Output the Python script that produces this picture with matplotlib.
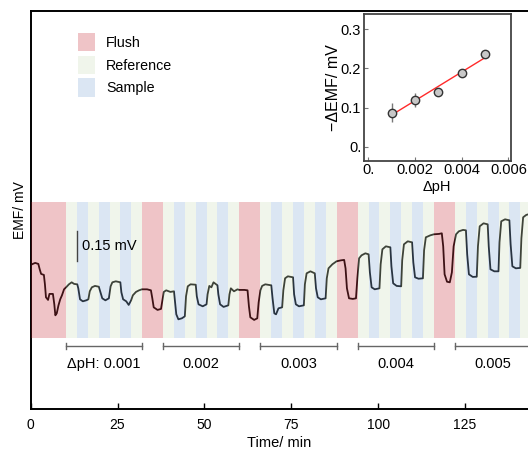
import numpy as np
import matplotlib
matplotlib.use("Agg")
import matplotlib.pyplot as plt
from matplotlib.patches import Patch

plt.rcParams['font.family'] = ['Liberation Sans', 'DejaVu Sans']

# EMF trace (min, mV relative to band bottom)
time_min = [0.05, 0.6, 1.3, 2.2, 2.6, 3.0, 3.8, 4.1, 4.4, 5.0, 5.4, 6.4, 6.8, 7.1, 7.5, 8.0, 8.5,
            9.0, 9.6, 10.3,
            11.0, 11.8, 12.5, 13.4, 13.7, 14.2, 15.0, 16.0, 16.6, 17.0, 17.6, 18.5, 19.6, 20.0,
            20.6, 21.5, 22.5, 23.0, 23.5, 24.5, 25.8, 26.1, 26.6, 27.5, 28.2, 28.9, 29.4, 30.3,
            31.2, 32.0,
            33.5, 34.6, 35.0, 35.4, 36.5, 37.5, 37.9, 38.3,
            39.0, 40.2, 41.23, 41.5, 41.9, 42.5, 43.5, 44.36, 44.7, 45.2, 46.0, 47.49, 47.8, 48.3,
            49.5, 50.61, 50.9, 51.4, 52.0, 52.6, 53.74, 54.0, 54.5, 55.5, 56.87, 57.2, 57.6, 58.5,
            59.5, 60.0,
            61.5, 62.4, 62.8, 63.2, 64.3, 65.2, 65.6, 66.1,
            66.6, 67.5, 69.23, 69.6, 70.1, 70.6, 71.3, 72.36, 72.7, 73.2, 74.0, 75.49, 75.8, 76.3,
            77.2, 78.61, 78.9, 79.4, 80.5, 81.74, 82.1, 82.6, 83.5, 84.87, 85.2, 85.7, 86.8, 88.0,
            89.3, 90.2, 90.6, 91.0, 91.6, 92.7, 93.6, 94.0, 94.5,
            95.2, 96.3, 97.23, 97.6, 98.1, 99.0, 100.36, 100.7, 101.2, 102.2, 103.49, 103.8, 104.3,
            105.3, 106.61, 106.9, 107.4, 108.5, 109.74, 110.1, 110.6, 111.6, 112.87, 113.2, 113.7,
            115.0, 116.0,
            117.5, 118.3, 118.7, 119.1, 119.8, 120.6, 121.2, 121.7, 122.4,
            123.2, 124.4, 125.23, 125.6, 126.1, 127.2, 128.36, 128.7, 129.2, 130.3, 131.49, 131.8,
            132.3, 133.4, 134.61, 134.9, 135.4, 136.5, 137.74, 138.1, 138.6, 139.6, 140.87, 141.2,
            141.7, 142.6, 143.2]
emf_mv = [0.367, 0.372, 0.377, 0.372, 0.345, 0.322, 0.317, 0.27, 0.205, 0.192, 0.222, 0.222, 0.17,
          0.115, 0.125, 0.165, 0.195, 0.215, 0.245, 0.257,
          0.27, 0.28, 0.272, 0.27, 0.25, 0.195, 0.185, 0.19, 0.195, 0.235, 0.255, 0.262, 0.258,
          0.235, 0.2, 0.19, 0.2, 0.26, 0.28, 0.285, 0.28, 0.23, 0.195, 0.185, 0.167, 0.19, 0.215,
          0.232, 0.24, 0.245,
          0.245, 0.24, 0.2, 0.155, 0.142, 0.147, 0.19, 0.232,
          0.24, 0.232, 0.235, 0.19, 0.12, 0.095, 0.1, 0.11, 0.21, 0.26, 0.27, 0.268, 0.21, 0.17,
          0.16, 0.17, 0.22, 0.262, 0.255, 0.28, 0.265, 0.22, 0.17, 0.157, 0.165, 0.22, 0.25,
          0.235, 0.245, 0.242,
          0.242, 0.24, 0.16, 0.105, 0.092, 0.1, 0.18, 0.24,
          0.262, 0.27, 0.265, 0.2, 0.125, 0.12, 0.15, 0.155, 0.24, 0.3, 0.31, 0.305, 0.22, 0.17,
          0.16, 0.165, 0.27, 0.325, 0.335, 0.325, 0.25, 0.205, 0.195, 0.2, 0.3, 0.35, 0.37, 0.385,
          0.39, 0.392, 0.35, 0.25, 0.2, 0.197, 0.2, 0.3, 0.4,
          0.415, 0.425, 0.42, 0.33, 0.255, 0.245, 0.25, 0.37, 0.445, 0.46, 0.455, 0.36, 0.275,
          0.262, 0.26, 0.39, 0.47, 0.485, 0.48, 0.38, 0.305, 0.298, 0.3, 0.44, 0.505, 0.515, 0.52,
          0.522, 0.525, 0.46, 0.32, 0.283, 0.28, 0.33, 0.46, 0.52,
          0.535, 0.542, 0.54, 0.42, 0.32, 0.307, 0.308, 0.46, 0.56, 0.575, 0.57, 0.46, 0.345,
          0.335, 0.335, 0.48, 0.585, 0.595, 0.59, 0.47, 0.36, 0.35, 0.352, 0.5, 0.605, 0.617, 0.62]

# flush periods; between them 7 alternating reference/sample steps
flush_start = [0.0, 32.0, 60.0, 88.0, 116.0, 144.0]
flush_end = [10.3, 38.1, 66.1, 94.1, 122.1, 150.0]
ph_labels = ["ΔpH: 0.001", "0.002", "0.003", "0.004", "0.005"]

# inset calibration
dph = [0.001, 0.002, 0.003, 0.004, 0.005]
d_emf = [0.087, 0.119, 0.141, 0.188, 0.236]
d_emf_err = [0.024, 0.018, 0.004, 0.010, 0.005]

c_flush = (195/255, 23/255, 35/255)
c_ref = (199/255, 219/255, 179/255)
c_sample = (115/255, 159/255, 211/255)
band_alpha = 0.25
band_lo, band_hi = 0.0, 0.68

fig = plt.figure(figsize=(5.28, 4.5), dpi=100)
ax = fig.add_axes([0.0581, 0.0904, 0.9419, 0.8858])

ax.plot(time_min, emf_mv, color='#111111', lw=1.3, zorder=2)

for i in range(len(flush_start)):
    ax.fill_betweenx([band_lo, band_hi], flush_start[i], flush_end[i],
                     color=c_flush, alpha=band_alpha, lw=0, zorder=3)
    if i + 1 < len(flush_start):
        seg = (flush_start[i + 1] - flush_end[i]) / 7.0
        for k in range(7):
            c = c_ref if k % 2 == 0 else c_sample
            ax.fill_betweenx([band_lo, band_hi], flush_end[i] + k * seg,
                             flush_end[i] + (k + 1) * seg,
                             color=c, alpha=band_alpha, lw=0, zorder=3)

# dpH brackets
for i, lab in enumerate(ph_labels):
    a, b = flush_end[i], flush_start[i + 1]
    ax.plot([a, b], [-0.036, -0.036], color='#666666', lw=1, zorder=4)
    ax.plot([a, a], [-0.051, -0.021], color='#666666', lw=1, zorder=4)
    ax.plot([b, b], [-0.051, -0.021], color='#666666', lw=1, zorder=4)
    ax.text((a + b) / 2, -0.126, lab, ha='center', va='center', fontsize=10.5)

# scale bar
ax.plot([13.3, 13.3], [0.3865, 0.5365], color='#444444', lw=1, zorder=4)
ax.text(14.7, 0.4615, "0.15 mV", ha='left', va='center', fontsize=10.5, zorder=5)

ax.set_xlim(0, 143.1)
ax.set_ylim(-0.355, 1.638)
ax.set_xticks([0, 25, 50, 75, 100, 125])
ax.set_yticks([])
ax.tick_params(axis='x', direction='in', length=4, width=1, labelsize=10, pad=6)
ax.set_xlabel("Time/ min", fontsize=10.5, labelpad=3)
ax.set_ylabel("EMF/ mV", fontsize=10, labelpad=3)
for side in ['left', 'bottom', 'top']:
    ax.spines[side].set_linewidth(1.4)
ax.spines['right'].set_visible(False)

handles = [Patch(facecolor=c_flush, alpha=band_alpha, lw=0),
           Patch(facecolor=c_ref, alpha=band_alpha, lw=0),
           Patch(facecolor=c_sample, alpha=band_alpha, lw=0)]
fig.legend(handles, ["Flush", "Reference", "Sample"], loc='upper left',
           bbox_to_anchor=(78.3 / 528, 1 - 33 / 450), bbox_transform=fig.transFigure,
           frameon=False, fontsize=10.3, handlelength=1.2, handleheight=1.6,
           handletextpad=0.75, labelspacing=0.3, borderpad=0, borderaxespad=0)

# inset
axi = fig.add_axes([364 / 528, 1 - 160.7 / 450, 146.7 / 528, 146.4 / 450])
fit = np.polyfit(dph, d_emf, 1)
xf = np.array([dph[0], dph[-1]])
axi.plot(xf, np.polyval(fit, xf), color='#ff2a2a', lw=1, zorder=2)
axi.errorbar(dph, d_emf, yerr=d_emf_err, fmt='o', ms=6, mfc='#c8c8c8', mec='#333333',
             mew=1, ecolor='#777777', elinewidth=1, capsize=0, zorder=3)
axi.set_xlim(-0.00018, 0.0061)
axi.set_ylim(-0.036, 0.3386)
axi.set_xticks([0, 0.002, 0.004, 0.006])
axi.set_xticklabels(["0.", "0.002", "0.004", "0.006"])
axi.set_yticks([0, 0.1, 0.2, 0.3])
axi.set_yticklabels(["0.", "0.1", "0.2", "0.3"])
axi.tick_params(direction='in', length=3, width=0.8, color='#777777', labelsize=10.5, pad=2)
axi.set_xlabel("ΔpH", fontsize=10.5, labelpad=2)
axi.set_ylabel("\u2212ΔEMF/ mV", fontsize=11.5, labelpad=0)
for s in axi.spines.values():
    s.set_color('#444444')
    s.set_linewidth(1.3)

fig.savefig("out.png", dpi=100)
